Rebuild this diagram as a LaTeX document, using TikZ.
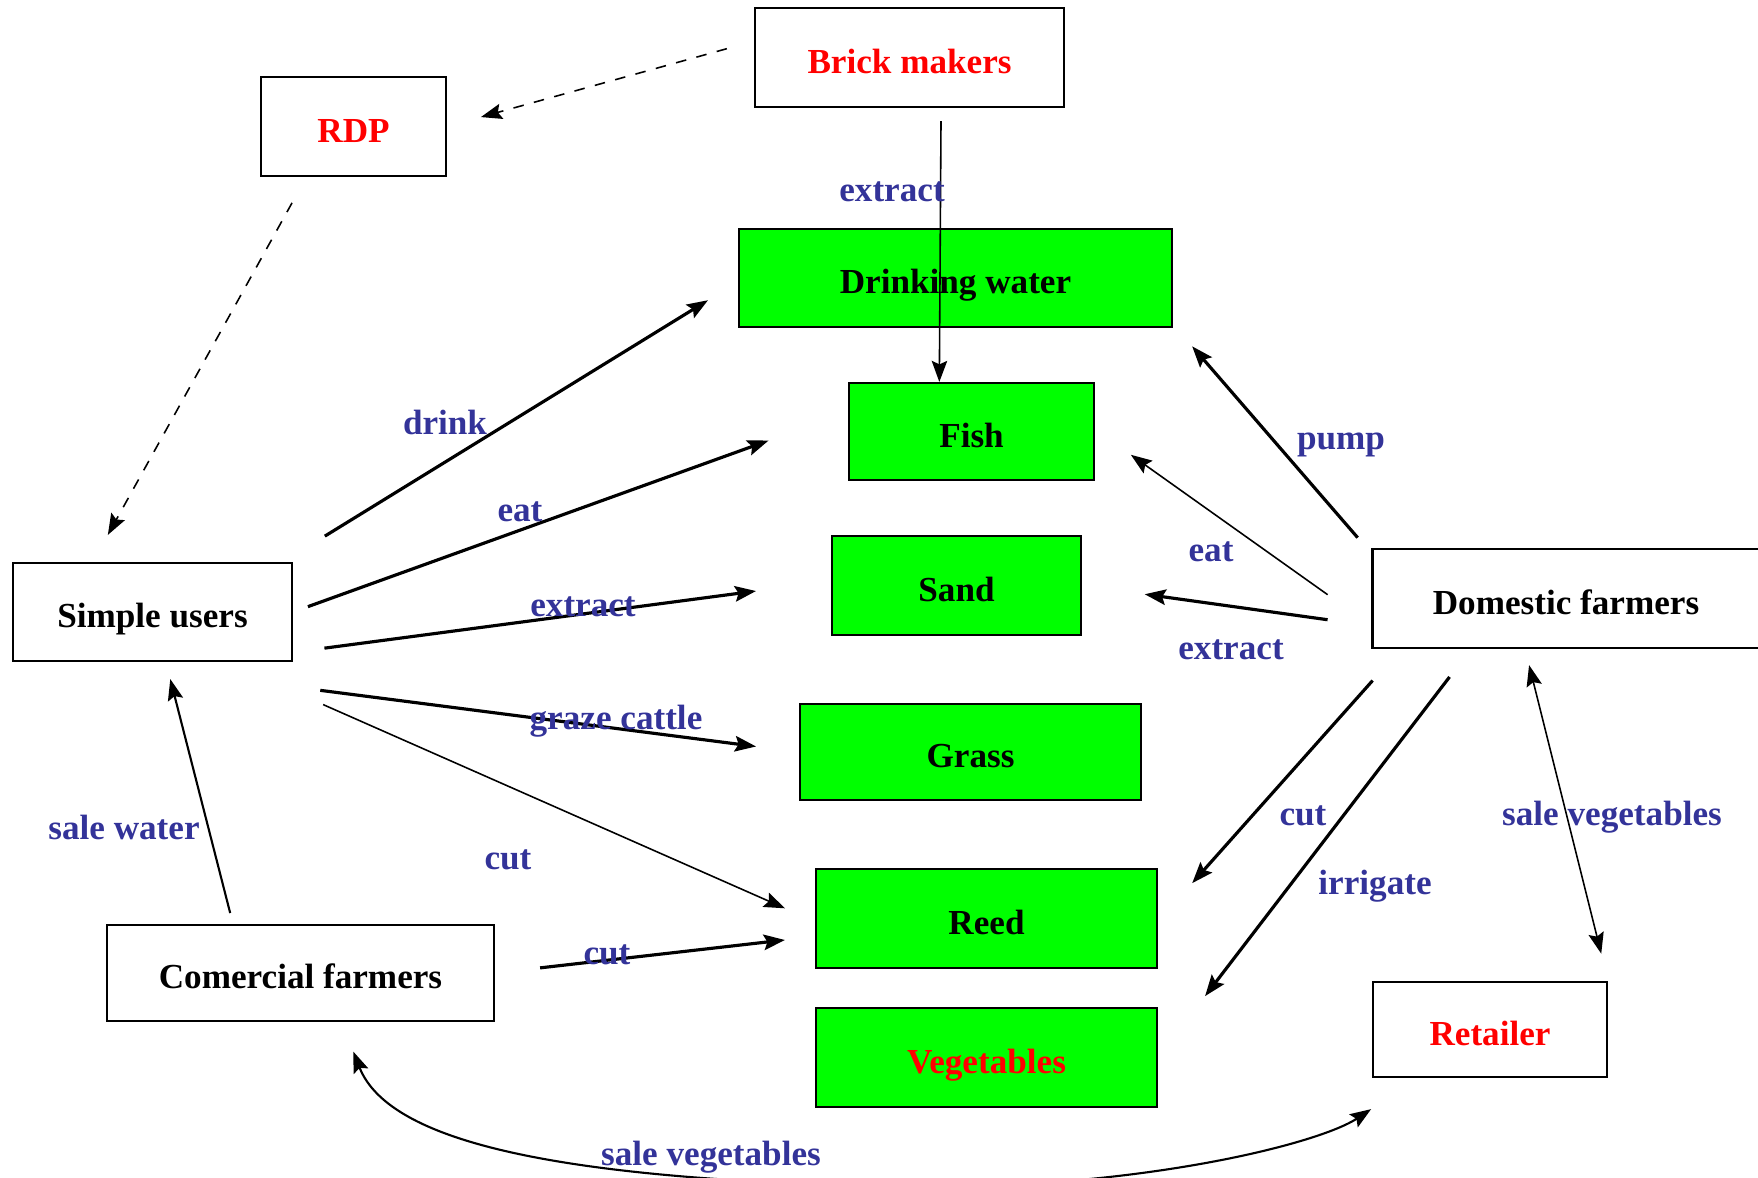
\documentclass[tikz,border=0pt]{standalone}
\usepackage{fontspec}
\setmainfont{Liberation Serif}
\usetikzlibrary{arrows.meta}
\definecolor{lblblue}{RGB}{51,51,153}
\definecolor{boxgreen}{RGB}{0,255,0}

\begin{document}
\begin{tikzpicture}[->, >={Stealth[length=6pt, width=4.4pt, inset=1pt]}, semithick,
		actor/.style={draw, rectangle, fill=white, inner sep=0pt, text height=9pt, text depth=0pt,
			font=\bfseries\fontsize{10}{12}\selectfont},
		resource/.style={actor, fill=boxgreen},
		lbl/.style={text=lblblue, font=\bfseries\fontsize{10}{12}\selectfont},
		strong/.style={line width=0.9pt},
		weak/.style={line width=0.45pt}]
		\useasboundingbox (0,0) rectangle (17.58,-11.78);

		\node[actor, text=red, minimum width=3.09cm, minimum height=0.99cm] (brick) at (9.095,-0.575) {Brick makers};
		\node[actor, text=red, minimum width=1.85cm, minimum height=0.99cm] (rdp) at (3.535,-1.265) {RDP};
		\node[actor, minimum width=2.79cm, minimum height=0.98cm] (simple) at (1.525,-6.12) {Simple users};
		\node[actor, minimum width=3.87cm, minimum height=0.99cm] (domestic) at (15.66,-5.985) {Domestic farmers};
		\node[actor, minimum width=3.87cm, minimum height=0.96cm] (comercial) at (3.005,-9.73) {Comercial farmers};
		\node[actor, text=red, minimum width=2.34cm, minimum height=0.95cm] (retailer) at (14.90,-10.295) {Retailer};

		\node[resource, minimum width=4.33cm, minimum height=0.98cm] (drink) at (9.555,-2.78) {Drinking water};
		\node[resource, minimum width=2.45cm, minimum height=0.97cm] (fish) at (9.715,-4.315) {Fish};
		\node[resource, minimum width=2.49cm, minimum height=0.99cm] (sand) at (9.565,-5.855) {Sand};
		\node[resource, minimum width=3.41cm, minimum height=0.96cm] (grass) at (9.705,-7.52) {Grass};
		\node[resource, minimum width=3.41cm, minimum height=0.99cm] (reed) at (9.865,-9.185) {Reed};
		\node[resource, text=red, minimum width=3.41cm, minimum height=0.99cm] (veg) at (9.865,-10.575) {Vegetables};

		% dotted lines of the RDP
		\draw[dashed, weak, shorten <=8pt, shorten >=10pt] (brick.174) -- (rdp.east);
		\draw[dashed, weak, shorten <=8.4pt, shorten >=8.8pt] (rdp.227) -- (simple.140);

		\draw[weak, shorten <=3.7pt] (brick.302) -- (fish.123);

		% simple users
		\draw[strong, shorten <=14pt, shorten >=10pt] (simple.21) -- (drink.181);
		\draw[strong, shorten <=4.5pt, shorten >=24pt] (simple.east) -- (fish.171);
		\draw[strong, shorten <=9pt, shorten >=21.5pt] (simple.344) -- (sand.178);
		\draw[strong, shorten <=63pt, shorten >=12.3pt] (simple.224) -- (grass.west);
		\draw[weak, shorten <=30pt, shorten >=9.3pt] (simple.326) -- (reed.181);

		% comercial farmers
		\draw[strong, shorten <=12.9pt, shorten >=8.6pt] (comercial.east) -- (reed.186);
		\draw[shorten <=3.2pt, shorten >=5pt] (comercial.144) -- (simple.285);
		\draw[<->, shorten <=9pt, shorten >=16pt] (comercial.310) .. controls (3.90,-11.45) and (5.70,-11.82) .. (9.25,-11.87)
			.. controls (11.50,-11.87) and (13.20,-11.43) .. (retailer.214);

		% domestic farmers
		\draw[strong, shorten <=6pt, shorten >=8.3pt] (domestic.167) -- (drink.348);
		\draw[weak, shorten <=15.3pt, shorten >=12.5pt] (domestic.188) -- (fish.1);
		\draw[strong, shorten <=12.6pt, shorten >=18pt] (domestic.188) -- (sand.east);
		\draw[strong, shorten <=12pt, shorten >=14.6pt] (domestic.197) -- (reed.359);
		\draw[strong, shorten <=10pt, shorten >=22pt] (domestic.208) -- (veg.east);
		\draw[<->, weak, shorten <=4.7pt, shorten >=8pt] (domestic.231) -- (retailer.north east);

		\node[lbl] (lextract) at (8.92,-1.92) {extract};
		\node[lbl] (ldrink) at (4.45,-4.22) {drink};
		\node[lbl] (leat) at (5.20,-5.12) {eat};
		\node[lbl] (lsand) at (5.83,-6.07) {extract};
		\node[lbl] (lgraze) at (6.16,-7.21) {graze cattle};
		\node[lbl] (lcut) at (5.08,-8.60) {cut};
		\node[lbl] (lcutc) at (6.07,-9.55) {cut};
		\node[lbl] (lwater) at (1.24,-8.27) {sale water};
		\node[lbl] (lsale) at (7.11,-11.57) {sale vegetables};
		\node[lbl] (lpump) at (13.41,-4.45) {pump};
		\node[lbl] (leatd) at (12.11,-5.52) {eat};
		\node[lbl] (lsandd) at (12.31,-6.50) {extract};
		\node[lbl] (lcutd) at (13.03,-8.16) {cut};
		\node[lbl] (lirrigate) at (13.75,-8.86) {irrigate};
		\node[lbl] (lretail) at (16.12,-8.17) {sale vegetables};
	\end{tikzpicture}
\end{document}
